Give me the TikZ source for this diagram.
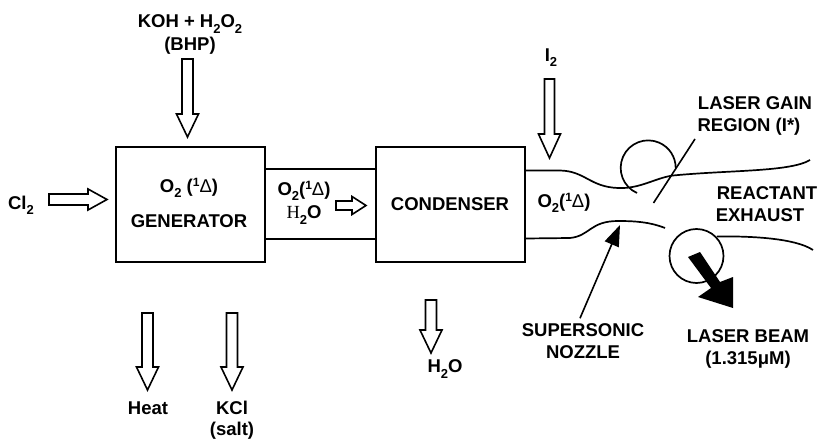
\documentclass[tikz,border=0pt]{standalone}
\usepackage{fontspec}
\setmainfont{Liberation Sans}
\newfontfamily\serifH{Liberation Serif}
\usetikzlibrary{calc,arrows.meta}
\newcommand\lo[1]{\raisebox{-.28em}{\fontsize{13}{13}\selectfont #1}}
\newcommand\hi[1]{\raisebox{.3em}{\fontsize{12}{12}\selectfont #1}}
\newcommand\Dl{{\mdseries Δ}}
\newcommand\blockarrow[5]{%
  \coordinate (h) at ($(#2)!#5pt!(#1)$);
  \draw[blockline] ($(#1)!#3pt!90:(#2)$) -- ($(h)!#3pt!90:(#2)$) -- ($(h)!#4pt!90:(#2)$) -- (#2)
    -- ($(h)!#4pt!-90:(#2)$) -- ($(h)!#3pt!-90:(#2)$) -- ($(#1)!#3pt!-90:(#2)$) -- cycle;}
\tikzset{
  blockline/.style={draw=black,line width=1.6pt,fill=white,line join=miter},
  lbl/.style={font=\fontsize{18.5}{22}\selectfont\bfseries,align=center,inner sep=0pt,text=black},
  unit/.style={draw=black,line width=1.8pt,fill=white,minimum width=149pt,minimum height=115pt,inner sep=0pt},
  pipe/.style={draw=black,line width=1.7pt},
  thin line/.style={draw=black,line width=1.6pt}
}
\begin{document}
\begin{tikzpicture}[x=1pt,y=-1pt]
\useasboundingbox (0,0) rectangle (820,441);
% units
\node[unit] (gen) at (190.5,204.5) {};
\node[unit] (cond) at (450.5,204.5) {};
\draw[pipe] (gen.east |- 0,169) -- (cond.west |- 0,169);
\draw[pipe] (gen.east |- 0,239) -- (cond.west |- 0,239);
% nozzle
\draw[pipe] (cond.east |- 0,170.5) -- (560,170.5) .. controls (585,171) and (590,187) .. (618,188)
  .. controls (640,189) and (655,178) .. (673,175.5) .. controls (730,170) and (790,172) .. (810,160);
\draw[pipe] (cond.east |- 0,238.5) -- (570,238) .. controls (590,236) and (590,221) .. (618,221)
  .. controls (635,221) and (650,222) .. (665,228);
\draw[pipe] (717,236.5) .. controls (750,236) and (795,238) .. (813,250);
% circles
\draw[pipe] (637,193) arc[start angle=114,delta angle=246,radius=27.5];
\node[draw=black,line width=1.7pt,circle,minimum size=54pt,inner sep=0pt] (c2) at (696.5,256) {};
% gain marker
\coordinate (g1) at (695,139); \coordinate (g2) at (653.5,203);
\draw[thin line] (g1) -- (g2);
% labels
\node[lbl] (koh) at (190,24) {KOH + H\lo{2}O\lo{2}};
\node[lbl] (bhp) at (190,46) {(BHP)};
\node[lbl] (cl) at (21,205) {Cl\lo{2}};
\node[lbl] (o1) at (189,188) {O\lo{2} (\hi{1}\Dl)};
\node[lbl] (g) at (189,221) {GENERATOR};
\node[lbl] (o2) at (304,191) {O\lo{2}(\hi{1}\Dl)};
\node[lbl] (w1) at (304,215) {{\serifH\mdseries H}\lo{2}O};
\node[lbl] (c) at (450,204) {CONDENSER};
\node[lbl] (o3) at (564,203) {O\lo{2}(\hi{1}\Dl)};
\node[lbl] (i) at (551,58) {I\lo{2}};
\node[lbl] (lg) at (755,103) {LASER GAIN};
\node[lbl] (rg) at (749,127) {REGION (I*)};
\node[lbl] (re) at (767,193) {REACTANT};
\node[lbl] (ex) at (760,215) {EXHAUST};
\node[lbl] (ss) at (583,330) {SUPERSONIC};
\node[lbl] (nz) at (583,352) {NOZZLE};
\node[lbl] (lb) at (748,336) {LASER BEAM};
\node[lbl] (wl) at (748,360) {(1.315μM)};
\node[lbl] (w2) at (445,369) {H\lo{2}O};
\node[lbl] (ht) at (148,408) {Heat};
\node[lbl] (kc) at (232,408) {KCl};
\node[lbl] (sl) at (232,431) {(salt)};
% block arrows
\coordinate (a1) at (187.5,59); \coordinate (b1) at (187.5,137); \blockarrow{a1}{b1}{5.5}{11}{23}
\coordinate (a2) at (49,199.5); \coordinate (b2) at (107,199.5); \blockarrow{a2}{b2}{5.5}{10.5}{19}
\coordinate (a3) at (336,205.5); \coordinate (b3) at (366,205.5); \blockarrow{a3}{b3}{4.5}{9}{14}
\coordinate (a4) at (549.5,79); \coordinate (b4) at (549.5,158); \blockarrow{a4}{b4}{5}{11}{24}
\coordinate (a5) at (147.5,313); \coordinate (b5) at (147.5,390); \blockarrow{a5}{b5}{5.5}{11}{23}
\coordinate (a6) at (232,313); \coordinate (b6) at (232,390); \blockarrow{a6}{b6}{5.5}{11}{23}
\coordinate (a7) at (431,300); \coordinate (b7) at (431,353); \blockarrow{a7}{b7}{5.5}{11}{23}
% nozzle pointer
\draw[thin line,-{Triangle[length=21pt,width=15pt]}] ($(ss.north -| 580,0)+(0,-5)$) -- (620,225);
% laser beam
\fill[black] (688,257) -- (700,252) -- (720,282) -- (733,277) -- (733,308) -- (698,297) -- (711,288) -- cycle;
\end{tikzpicture}
\end{document}
